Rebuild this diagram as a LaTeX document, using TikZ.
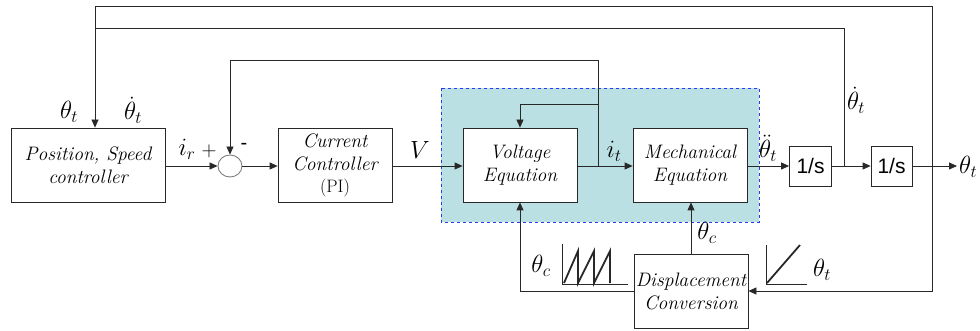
\documentclass[tikz,border=0pt]{standalone}
\usepackage{amsmath}
\usepackage{fontspec}
\newfontfamily\arialfont{Liberation Sans}
\usetikzlibrary{arrows.meta,calc,shapes.geometric}
\definecolor{shade}{RGB}{186,224,227}
\definecolor{dashblue}{RGB}{40,60,235}
\definecolor{ln}{RGB}{40,40,40}
\tikzset{
  blk/.style={draw=ln,line width=0.8pt,fill=white,minimum width=114pt,minimum height=74pt,inner sep=0pt,align=center,font=\fontsize{19.5}{23}\selectfont\itshape},
  intg/.style={draw=ln,line width=0.8pt,fill=white,minimum width=42pt,minimum height=40pt,inner sep=0pt,font=\fontsize{21}{21}\selectfont\arialfont},
  conn/.style={draw=ln,line width=0.8pt},
  arr/.style={conn,-{Triangle[length=8pt,width=7pt]}},
  lbl/.style={inner sep=0pt,font=\fontsize{24}{24}\selectfont},
}
\begin{document}
\begin{tikzpicture}[x=1pt,y=-1pt]
\useasboundingbox (0,0) rectangle (980,331);
% shaded region
\draw[dashblue,dashed,line width=0.9pt,fill=shade] (441,88) rectangle (759,222);
% blocks
\node[blk,minimum width=154pt] (pos) at (88,165) {Position, Speed\\controller};
\node[draw=ln!60,line width=0.9pt,ellipse,minimum width=24pt,minimum height=22pt,inner sep=0pt] (sum) at (230,166) {};
\node[blk] (cc) at (335,165) {Current\\Controller\\[-1pt]{\upshape\fontsize{18}{20}\selectfont (PI)}};
\node[blk] (ve) at (520,165) {Voltage\\Equation};
\node[blk] (me) at (690,165) {Mechanical\\Equation};
\node[intg] (i1) at (810.5,166) {1/s};
\node[intg,minimum width=41pt] (i2) at (891.5,166) {1/s};
\node[blk] (dc) at (691,291) {Displacement\\Conversion};
% coordinates
\coordinate (out) at (957,166);
\coordinate (j1) at (598,166);
\coordinate (j2) at (844,166);
\coordinate (j3) at (932,166);
\coordinate (top1) at (95,6);
\coordinate (top2) at (95,28);
% forward path
\draw[arr] (pos.east |- sum) -- (sum.west);
\draw[arr] (sum.east) -- (cc.west |- sum);
\draw[arr] (cc.east |- sum) -- (ve.west |- sum);
\draw[arr] (ve.east |- sum) -- (me.west |- sum);
\draw[arr] (me.east |- sum) -- (i1.west);
\draw[arr] (i1.east) -- (i2.west);
\draw[arr] (i2.east) -- (out);
% current feedback
\draw[arr] (j1) -- (j1 |- 0,60) -| (sum.north);
\draw[arr] (j1 |- 0,104) -| (ve.north);
% speed / position feedback
\draw[conn] (j2) -- (j2 |- top2) -- (top2);
\draw[arr] (j3) -- (j3 |- top1) -- (top1) -- (pos.north -| top1);
\draw[arr] (j3) -- (j3 |- dc.east) -- (dc.east);
% displacement outputs
\draw[arr] (dc.west) -| (ve.south);
\draw[arr] (dc.north) -- (dc.north |- me.south);
% labels
\node[lbl] (l1) at (69,112) {$\theta_t$};
\node[lbl] (l2) at (133,110) {$\dot{\theta}_t$};
\node[lbl] (l3) at (187,149) {$i_r$};
\node[lbl,font=\fontsize{22}{22}\selectfont] (l4) at (209,151) {$+$};
\node[lbl,font=\fontsize{20}{20}\selectfont\arialfont] (l5) at (244,146) {-};
\node[lbl,font=\fontsize{26}{26}\selectfont] (l6) at (420,150) {$V$};
\node[lbl] (l7) at (614,151) {$i_t$};
\node[lbl] (l8) at (768,148) {$\ddot{\theta}_t$};
\node[lbl] (l9) at (856,100) {$\dot{\theta}_t$};
\node[lbl,anchor=west] (l10) at (959,167) {$\theta_t$};
\node[lbl] (l11) at (541,266) {$\theta_c$};
\node[lbl] (l12) at (707,233) {$\theta_c$};
\node[lbl] (l13) at (822,270) {$\theta_t$};
% sawtooth sketch
\draw[ln,line width=0.6pt] (562.5,244) -- (562.5,284) -- (628,284);
\draw[ln,line width=1.8pt,line join=miter] (564,283) -- (578,251) -- (578,283) -- (594,251) -- (594,283) -- (610,251) -- (610,283);
% ramp sketch
\draw[ln,line width=0.6pt] (766,245) -- (766,284) -- (807,284);
\draw[ln,line width=1.8pt] (767,283) -- (800,245);
\end{tikzpicture}
\end{document}
